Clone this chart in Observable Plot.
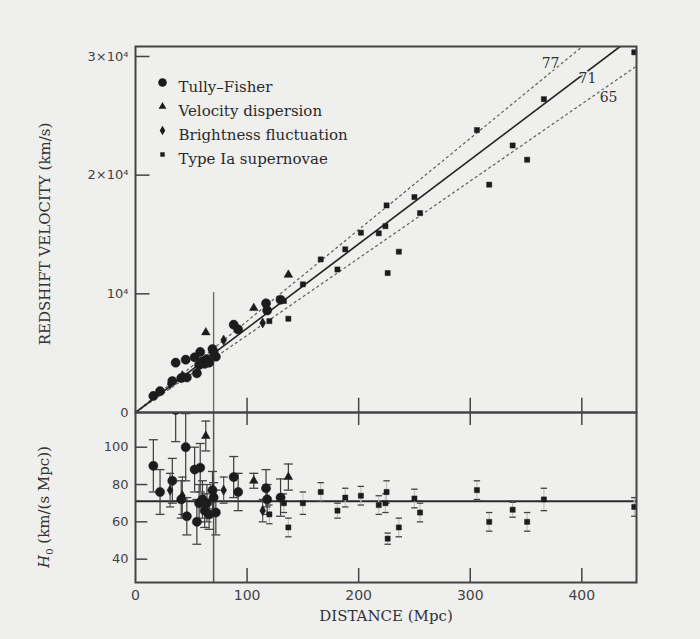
<!DOCTYPE html>
<html><head><meta charset="utf-8">
<script src="https://cdn.jsdelivr.net/npm/d3@7"></script>
<script src="https://cdn.jsdelivr.net/npm/@observablehq/plot@0.6"></script>
<style>
html,body{margin:0;padding:0;background:#efefed;}
#wrap{position:relative;width:700px;height:639px;overflow:hidden;background:#efefed;}
#top,#bot{position:absolute;left:0;}
#top{top:0px;}
#bot{top:402px;}
.ylab{position:absolute;font-family:"DejaVu Serif",serif;font-size:15px;color:#333;white-space:nowrap;transform:translate(-50%,-50%) rotate(-90deg);}
</style></head><body>
<div id="wrap"><div id="top"></div><div id="bot"></div>
<div class="ylab" style="left:45px;top:234px;">REDSHIFT VELOCITY (km/s)</div>
<div class="ylab" style="left:45px;top:507px;"><i>H</i><sub style="font-size:10px">0</sub> (km/(s Mpc))</div>
</div>
<script>
// ---- data ----
const tfDist = [16, 22, 33, 36, 41, 46, 45, 53, 58, 55, 57, 60, 62, 64, 66, 69, 70, 72, 88, 92, 117, 118, 130];
const tfVel  = [1400, 1800, 2650, 4200, 2900, 2950, 4450, 4650, 5100, 3300, 4000, 4300, 4100, 4500, 4200, 5350, 5100, 4700, 7400, 7000, 9200, 8600, 9500];
const tfH0   = [90, 76, 82, 120, 72, 63, 100, 88, 89, 60, 70, 72, 66, 70, 64, 77, 73, 65, 84, 76, 78, 72, 73];
const tfErr  = [14, 12, 12, 17, 10, 10, 18, 12, 13, 12, 10, 10, 9, 10, 8, 10, 8, 12, 11, 10, 10, 8, 10];

const vdDist = [63, 106, 137];
const vdVel  = [6750, 8800, 11600];
const vdH0   = [106, 82, 84];
const vdErr  = [8, 4, 7];

const bfDist = [31, 42, 79, 114];
const bfVel  = [2400, 3100, 6100, 7550];
const bfH0   = [77, 74, 77, 66];
const bfErr  = [9, 10, 7, 6];

const snDist = [120, 133, 137, 150, 166, 181, 188, 202, 218, 224, 225, 226, 236, 250, 255, 306, 317, 338, 351, 366, 447];
const snVel  = [7700, 9400, 7900, 10800, 12900, 12050, 13750, 15150, 15100, 15700, 17450, 11750, 13550, 18150, 16800, 23800, 19200, 22500, 21300, 26400, 30350];
const snH0   = [64, 70, 57, 70, 76, 66, 73, 74, 69, 70, 76, 51, 57, 72.5, 65, 77, 60, 66.5, 60, 72, 68];
const snErr  = [5, 5, 5, 6, 5, 4, 5, 5, 5, 5, 6, 3, 5, 5, 5, 5, 5, 4, 5, 6, 5];

const methodNames = ["Tully–Fisher", "Velocity dispersion", "Brightness fluctuation", "Type Ia supernovae"];
const hubbleLines = [77, 71, 65];
const hubbleBest = 71;
const hubbleLabelDist = [372, 405, 424];
const fiducialDist = 70;
const fiducialVelTop = 10100;

const distTicks = [0, 100, 200, 300, 400];
const velTicks = [0, 10000, 20000, 30000];
const velTickLabels = ["0", "10⁴", "2×10⁴", "3×10⁴"];
const h0Ticks = [40, 60, 80, 100];
const h0Fit = 71;

const xDom = [0, 449];
const vDom = [0, 30840];
const hDom = [27.5, 118.6];

// ---- build tables ----
function rows(d, v, h, e) { return d.map((x, i) => ({d: x, v: v[i], h: h[i], e: e[i]})); }
const methods = [
  {name: methodNames[0], data: rows(tfDist, tfVel, tfH0, tfErr), symbol: "circle", r: 4.6, bar: "#3a3a3a", cap: 4.5, lr: 4.3},
  {name: methodNames[1], data: rows(vdDist, vdVel, vdH0, vdErr), symbol: "triangle", r: 3.2, bar: "#3a3a3a", cap: 4.5, lr: 2.9},
  {name: methodNames[2], data: rows(bfDist, bfVel, bfH0, bfErr), symbol: "diamond", r: 3.1, bar: "#555", cap: 4, lr: 2.9},
  {name: methodNames[3], data: rows(snDist, snVel, snH0, snErr), symbol: "square", r: 2.9, bar: "#c4c4c2", cap: 3.2, lr: 2.5}
];
const ink = "#1c1c1c";
const hbar = {draw(ctx, size) { const w = Math.sqrt(size / Math.PI); ctx.moveTo(-w, 0); ctx.lineTo(w, 0); }};
const serif = "DejaVu Serif";

// ---- top panel ----
const topMarks = [
  Plot.ruleY(velTicks.slice(1), {x1: 0, x2: 13, stroke: "#444", strokeWidth: 1.5}),
  Plot.ruleX(distTicks.slice(1), {y1: 0, y2: 1200, stroke: "#444", strokeWidth: 1.5}),
  Plot.ruleX([fiducialDist], {y1: 0, y2: fiducialVelTop, stroke: "#666", strokeWidth: 1.3}),
  Plot.link(hubbleLines.filter(h => h !== hubbleBest), {x1: 0, y1: 0, x2: xDom[1], y2: h => h * xDom[1], clip: true,
    stroke: "#5e5e5e", strokeWidth: 1.2, strokeDasharray: "3,2.5"}),
  Plot.link([hubbleBest], {x1: 0, y1: 0, x2: xDom[1], y2: h => h * xDom[1], clip: true,
    stroke: "#262626", strokeWidth: 1.7}),
];
for (const m of methods) {
  topMarks.push(Plot.dot(m.data, {x: "d", y: "v", symbol: m.symbol, r: m.r, fill: ink, stroke: ink, strokeWidth: 0.5}));
}
const labelDy = [-9, 7, 12];
hubbleLines.forEach((h, i) => {
  topMarks.push(Plot.text([h], {x: () => hubbleLabelDist[i], y: () => h * hubbleLabelDist[i], text: d => String(d),
    dy: labelDy[i], fontFamily: serif, fontSize: 14, fill: "#333", stroke: "#efefed", strokeWidth: 3, paintOrder: "stroke"}));
});
methods.forEach((m, i) => {
  topMarks.push(Plot.dot([m.name], {frameAnchor: "top-left", dx: 27, dy: 36 + i * 24, symbol: m.symbol,
    r: m.lr, fill: ink}));
  topMarks.push(Plot.text([m.name], {frameAnchor: "top-left", dx: 43, dy: 35 + i * 24, text: d => d,
    textAnchor: "start", fontFamily: serif, fontSize: 15, fill: "#2a2a2a"}));
});
topMarks.push(Plot.axisY(velTicks, {tickSize: 0, tickPadding: 7, label: null,
  tickFormat: v => velTickLabels[velTicks.indexOf(v)], fontSize: 13}));
topMarks.push(Plot.frame({stroke: "#444", strokeWidth: 2}));

const topChart = Plot.plot({
  width: 700, height: 414, marginLeft: 135, marginRight: 64, marginTop: 46, marginBottom: 2,
  style: {background: "transparent", fontFamily: "DejaVu Sans", fontSize: "13px", color: "#444", overflow: "visible"},
  x: {domain: xDom, axis: null},
  y: {domain: vDom, axis: null},
  marks: topMarks
});
document.getElementById("top").appendChild(topChart);

// ---- bottom panel ----
const botMarks = [
  Plot.ruleY(h0Ticks, {x1: 0, x2: 11, stroke: "#444", strokeWidth: 1.5}),
  Plot.ruleX(distTicks.slice(1), {y1: hDom[1] - 7, y2: hDom[1], stroke: "#444", strokeWidth: 1.5}),
  Plot.ruleX(distTicks.slice(1), {y1: hDom[0], y2: hDom[0] + 7.5, stroke: "#444", strokeWidth: 1.5}),
  Plot.ruleY([h0Fit], {stroke: "#2a2a2a", strokeWidth: 2}),
  Plot.ruleX([fiducialDist], {stroke: "#555", strokeWidth: 1.5}),
];
for (const m of methods.slice().reverse()) {
  botMarks.push(Plot.ruleX(m.data, {x: "d", y1: d => d.h - d.e, y2: d => d.h + d.e, stroke: m.bar, strokeWidth: 1.2, clip: true}));
  botMarks.push(Plot.dot(m.data, {x: "d", y: d => d.h + d.e, symbol: hbar, r: m.cap, stroke: "#444", strokeWidth: 1.3, fill: "none", clip: true}));
  botMarks.push(Plot.dot(m.data, {x: "d", y: d => d.h - d.e, symbol: hbar, r: m.cap, stroke: "#444", strokeWidth: 1.3, fill: "none", clip: true}));
}
for (const m of methods) {
  botMarks.push(Plot.dot(m.data, {x: "d", y: "h", symbol: m.symbol, r: m.r, fill: ink, stroke: ink, strokeWidth: 0.5, clip: true}));
}
botMarks.push(Plot.axisY(h0Ticks, {tickSize: 0, tickPadding: 7, label: null, fontSize: 13}));
botMarks.push(Plot.axisX(distTicks, {tickSize: 0, tickPadding: 8, label: null, fontSize: 14}));
botMarks.push(Plot.text(["DISTANCE (Mpc)"], {frameAnchor: "bottom", dy: 38, text: d => d, fontFamily: serif, fontSize: 15, fill: "#333"}));
botMarks.push(Plot.frame({stroke: "#444", strokeWidth: 2}));

const botChart = Plot.plot({
  width: 700, height: 237, marginLeft: 135, marginRight: 64, marginTop: 10, marginBottom: 57,
  style: {background: "transparent", fontFamily: "DejaVu Sans", fontSize: "13px", color: "#444", overflow: "visible"},
  x: {domain: xDom, axis: null},
  y: {domain: hDom, axis: null},
  marks: botMarks
});
document.getElementById("bot").appendChild(botChart);
</script>
</body></html>
